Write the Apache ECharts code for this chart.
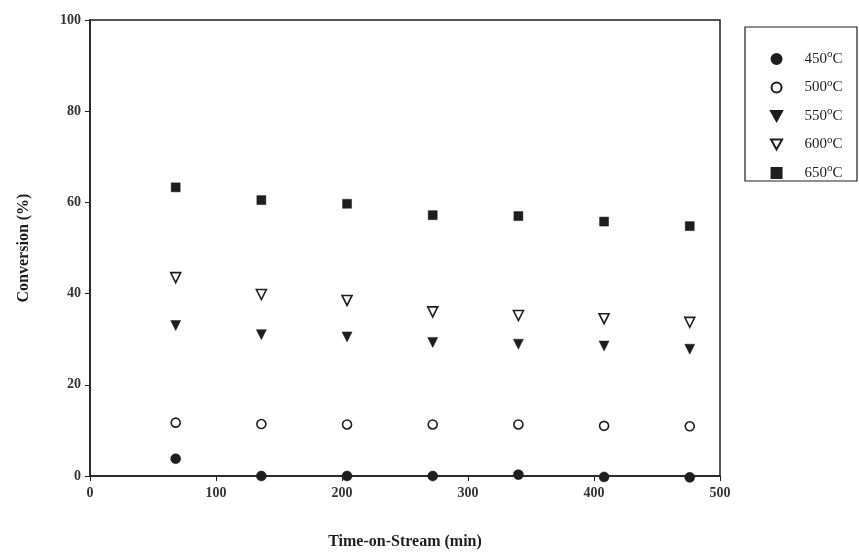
<!DOCTYPE html>
<html>
<head>
<meta charset="utf-8">
<script src="https://cdn.jsdelivr.net/npm/echarts@6/dist/echarts.min.js"></script>
<style>
  html, body { margin: 0; padding: 0; background: #fff; }
  #chart { width: 859px; height: 557px; }
</style>
</head>
<body>
<div id="chart"></div>
<script>
  var times = [68, 136, 204, 272, 340, 408, 476];
  var temps = ['450', '500', '550', '600', '650'];
  var conv450 = [3.8, 0, 0, 0, 0.3, -0.2, -0.3];
  var conv500 = [11.7, 11.4, 11.3, 11.3, 11.3, 11.0, 10.9];
  var conv550 = [33.0, 31.0, 30.5, 29.3, 28.9, 28.5, 27.8];
  var conv600 = [43.5, 39.8, 38.5, 36.0, 35.2, 34.5, 33.7];
  var conv650 = [63.3, 60.5, 59.7, 57.2, 57.0, 55.8, 54.8];
  var yTicks = [0, 20, 40, 60, 80, 100];
  var xTicks = [0, 100, 200, 300, 400, 500];

  function pairs(vals) {
    return times.map(function (t, i) { return [t, vals[i]]; });
  }

  var ink = '#1e1e1e';
  var serif = '"Liberation Serif", "DejaVu Serif", serif';
  // downward triangle and square as paths so legend icons keep their shape
  var triDown = 'path://M0,0L10,0L5,9Z';
  var square = 'path://M0,0L10,0L10,10L0,10Z';

  var styles = [
    { symbol: 'circle', size: 10, fill: ink },
    { symbol: 'circle', size: 9, fill: '#fff' },
    { symbol: triDown, size: 10, fill: ink },
    { symbol: triDown, size: 10, fill: '#fff' },
    { symbol: square, size: 9, fill: ink }
  ];
  var seriesData = [conv450, conv500, conv550, conv600, conv650];

  var chart = echarts.init(document.getElementById('chart'));
  chart.setOption({
    animation: false,
    backgroundColor: '#fff',
    grid: { left: 90, right: 139, top: 20, bottom: 81, show: true, borderColor: ink, borderWidth: 1.5 },
    graphic: [{
      type: 'rect',
      shape: { x: 745, y: 27, width: 112, height: 154 },
      style: { fill: 'none', stroke: ink, lineWidth: 1.2 }
    }],
    legend: {
      orient: 'vertical',
      left: 765,
      top: 44,
      itemGap: 11,
      itemWidth: 30,
      itemHeight: 10,
      data: temps.map(function (t) { return t + 'C'; }),
      formatter: function (name) { return name.replace('C', '') + '{sup|o}C'; },
      textStyle: {
        fontFamily: serif, fontSize: 15, color: ink, padding: [0, 0, 0, 8],
        rich: { sup: { fontFamily: serif, fontSize: 11, verticalAlign: 'top', padding: [0, 0, 9, 0], color: ink } }
      }
    },
    xAxis: {
      type: 'value', min: 0, max: 500, interval: 100,
      name: 'Time-on-Stream (min)', nameLocation: 'middle', nameGap: 58,
      nameTextStyle: { fontFamily: serif, fontSize: 16, fontWeight: 'bold', color: ink },
      axisLine: { show: true, lineStyle: { color: ink, width: 1.5 } },
      axisTick: { show: true, inside: false, length: 5, lineStyle: { color: ink } },
      axisLabel: {
        fontFamily: serif, fontSize: 14, fontWeight: 'bold', color: '#333', margin: 10,
        formatter: function (v) { return xTicks.indexOf(v) >= 0 ? String(v) : ''; }
      },
      splitLine: { show: false }
    },
    yAxis: {
      type: 'value', min: 0, max: 100, interval: 20,
      name: 'Conversion (%)', nameLocation: 'middle', nameGap: 58,
      nameTextStyle: { fontFamily: serif, fontSize: 16, fontWeight: 'bold', color: ink },
      axisLine: { show: true, lineStyle: { color: ink, width: 1.5 } },
      axisTick: { show: true, inside: false, length: 5, lineStyle: { color: ink } },
      axisLabel: {
        fontFamily: serif, fontSize: 14, fontWeight: 'bold', color: '#333', margin: 9,
        formatter: function (v) { return yTicks.indexOf(v) >= 0 ? String(v) : ''; }
      },
      splitLine: { show: false }
    },
    series: temps.map(function (t, i) {
      var s = styles[i];
      return {
        name: t + 'C',
        type: 'scatter',
        clip: false,
        symbol: s.symbol,
        symbolSize: s.size,
        itemStyle: { color: s.fill, borderColor: ink, borderWidth: s.fill === '#fff' ? 1.6 : 0.5, opacity: 1 },
        data: pairs(seriesData[i])
      };
    })
  });
</script>
</body>
</html>
